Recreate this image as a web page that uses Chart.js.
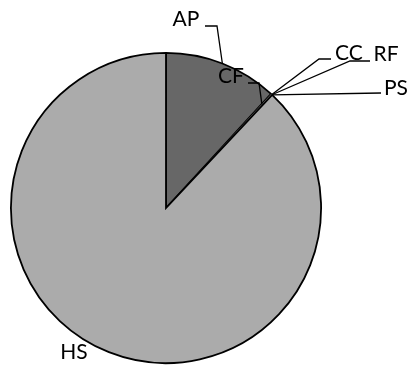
<!DOCTYPE html>
<html><head><meta charset="utf-8">
<script src="https://cdn.jsdelivr.net/npm/chart.js@4"></script>
<style>html,body{margin:0;padding:0;background:#fff;}#c{display:block;}</style>
</head><body>
<canvas id="c" width="414" height="365"></canvas>
<script>
const categories = ["AP", "CF", "CC", "RF", "PS", "HS"];
const values = [11.84, 0.1, 0.02, 0.02, 0.02, 88.0];
const colors = ["#676767", "#676767", "#676767", "#676767", "#676767", "#ababab"];

// label layout: text centre, elbow points of leader line, anchor radius factor
const labelLayout = {
  AP: {tx: 186, ty: 19, line: [[205, 26], [217, 26]], rf: 1.0},
  CF: {tx: 231, ty: 76, line: [[248, 83], [259, 83]], rf: 0.91},
  CC: {tx: 349, ty: 53, line: [[331, 59], [319, 59]], rf: 1.0},
  RF: {tx: 386, ty: 54, line: [[370, 61], [350, 61]], rf: 1.0},
  PS: {tx: 396, ty: 88, line: [[381, 93]], rf: 1.0},
  HS: {tx: 74, ty: 352, line: null, rf: 1.0}
};

const labelPlugin = {
  id: 'pieLabels',
  afterDatasetsDraw(chart) {
    const ctx = chart.ctx;
    const meta = chart.getDatasetMeta(0);
    ctx.save();
    ctx.font = '21px Lato, sans-serif';
    ctx.fillStyle = '#000';
    ctx.textAlign = 'center';
    ctx.textBaseline = 'middle';
    ctx.strokeStyle = '#000';
    ctx.lineWidth = 1.3;
    meta.data.forEach((arc, i) => {
      const name = categories[i];
      const L = labelLayout[name];
      const p = arc.getProps(['x', 'y', 'startAngle', 'endAngle', 'outerRadius'], true);
      const mid = (p.startAngle + p.endAngle) / 2;
      const r = p.outerRadius * L.rf;
      const ax = p.x + Math.cos(mid) * r;
      const ay = p.y + Math.sin(mid) * r;
      if (L.line) {
        ctx.beginPath();
        ctx.moveTo(L.line[0][0], L.line[0][1]);
        for (let k = 1; k < L.line.length; k++) ctx.lineTo(L.line[k][0], L.line[k][1]);
        ctx.lineTo(ax, ay);
        ctx.stroke();
      }
      ctx.fillText(name, L.tx, L.ty);
    });
    ctx.restore();
  }
};

new Chart(document.getElementById('c'), {
  type: 'pie',
  data: {
    labels: categories,
    datasets: [{
      data: values,
      backgroundColor: colors,
      borderColor: '#000',
      borderWidth: [1.8, 0, 0, 0, 0, 1.8],
      borderJoinStyle: 'miter'
    }]
  },
  options: {
    responsive: false,
    animation: false,
    layout: {padding: {top: 52, bottom: 1, left: 10, right: 92}},
    plugins: {legend: {display: false}, tooltip: {enabled: false}}
  },
  plugins: [labelPlugin]
});
</script>
</body></html>
